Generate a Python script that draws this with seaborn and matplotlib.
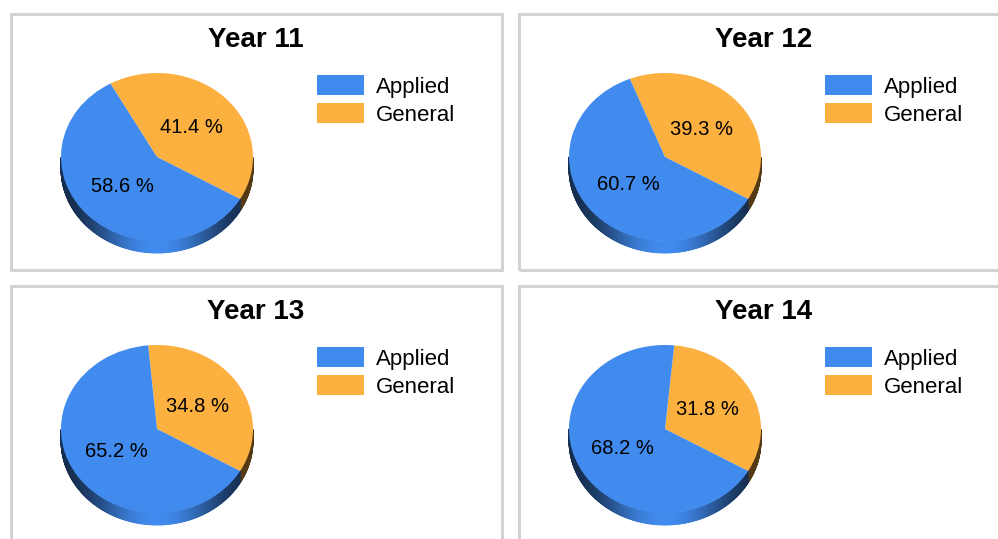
import numpy as np
import matplotlib.pyplot as plt
import seaborn as sns
from matplotlib.patches import Patch, Rectangle
from matplotlib.colors import to_rgb

sns.set_theme(style="white")
plt.rcParams['font.family'] = ['Liberation Sans', 'DejaVu Sans']
plt.rcParams['text.color'] = 'black'

# data
years = ['Year 11', 'Year 12', 'Year 13', 'Year 14']
applied = [58.6, 60.7, 65.2, 68.2]
general = [41.4, 39.3, 34.8, 31.8]
labels = ['Applied', 'General']
colors = {'Applied': '#418bee', 'General': '#fbb040'}

W, H = 998, 539
fig = plt.figure(figsize=(W / 100, H / 100), dpi=100)


def fx(x):
    return x / W


def fy(y):
    return 1 - y / H


offsets = [(0, 0), (508, 0), (0, 272), (508, 272)]
RX, RY, DEPTH = 96, 84, 12

for name, a, g, (ox, oy) in zip(years, applied, general, offsets):
    # grey panel frame
    fig.patches.append(Rectangle((fx(10.5 + ox), fy(270 + oy)), 491.5 / W, 256 / H,
                                 transform=fig.transFigure, fill=False,
                                 edgecolor='#d3d3d3', lw=2.2))

    cx, cy = 157 + ox, 157 + oy
    ax = fig.add_axes([fx(cx - 110), fy(cy + 112), 220 / W, 212 / H])
    wedges, texts, autotexts = ax.pie(
        [g, a], colors=[colors['General'], colors['Applied']], startangle=-30,
        autopct='%1.1f %%', pctdistance=0.5, wedgeprops=dict(linewidth=0),
        textprops=dict(fontsize=14.5, color='black'))
    ax.set_aspect('auto')
    ax.set_xlim(-110 / RX, 110 / RX)
    ax.set_ylim(-112 / RY, 100 / RY)
    ax.axis('off')

    # 3d rim under the front half of the pie
    d = DEPTH / RY
    for w, col in zip(wedges, [colors['General'], colors['Applied']]):
        base = np.array(to_rgb(col))
        ts = np.linspace(w.theta1, w.theta2, int(abs(w.theta2 - w.theta1) * 2) + 2)
        for a0, a1 in zip(ts[:-1], ts[1:]):
            m = np.radians((a0 + a1) / 2)
            if np.sin(m) >= 0:
                continue
            shade = 0.33 + 0.67 * (-np.sin(m)) ** 5
            r0, r1 = np.radians(a0), np.radians(a1)
            xs = [np.cos(r0), np.cos(r1), np.cos(r1), np.cos(r0)]
            ys = [np.sin(r0), np.sin(r1), np.sin(r1) - d, np.sin(r0) - d]
            ax.fill(xs, ys, color=base * shade, lw=0.6, zorder=0)

    handles = [Patch(facecolor=colors[l], edgecolor='none', label=l) for l in labels]
    fig.legend(handles=handles, loc='upper left', bbox_to_anchor=(fx(317 + ox), fy(75 + oy)),
               frameon=False, fontsize=16, handlelength=2.1, handleheight=1.0,
               handletextpad=0.55, labelspacing=0.25, borderpad=0, borderaxespad=0)

    fig.text(fx(256 + ox), fy(40 + oy), name, ha='center', va='center',
             fontsize=20, fontweight='bold')

fig.savefig('out.png', dpi=100)
